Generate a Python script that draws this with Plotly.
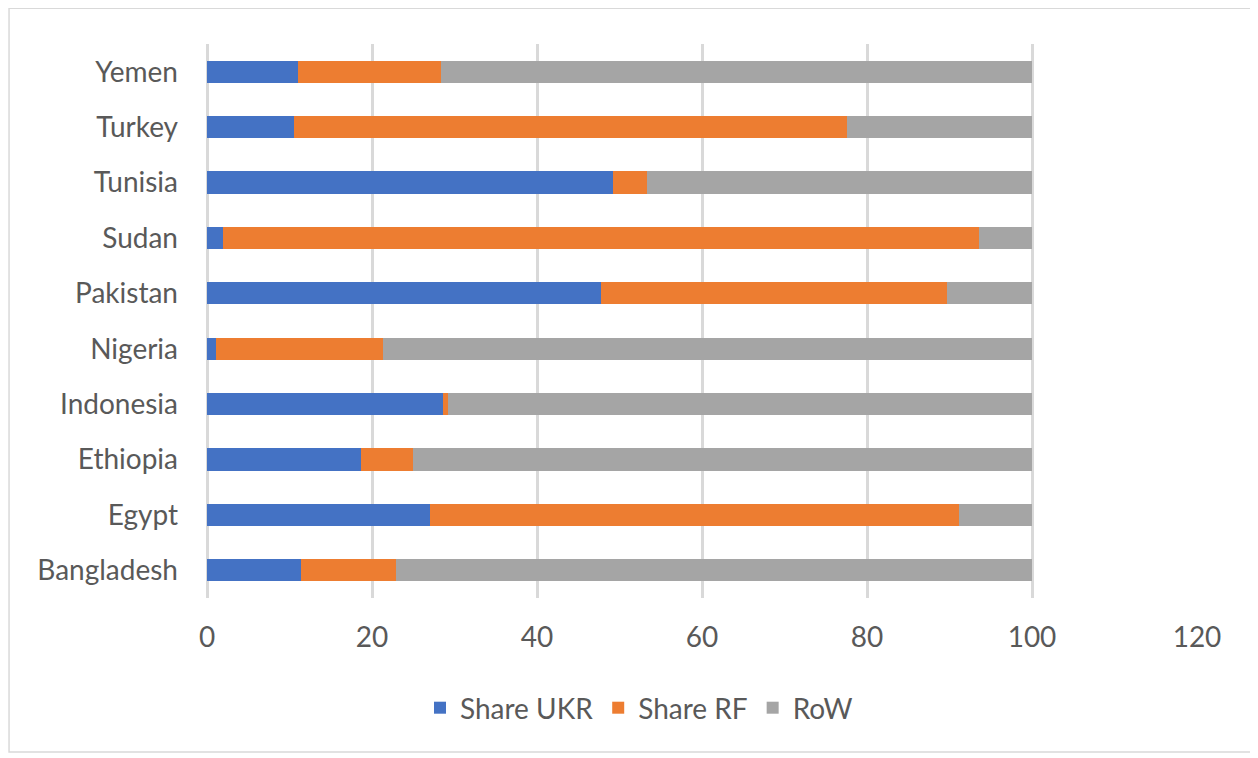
import plotly.graph_objects as go

countries = ["Bangladesh", "Egypt", "Ethiopia", "Indonesia", "Nigeria",
             "Pakistan", "Sudan", "Tunisia", "Turkey", "Yemen"]
share_ukr = [11.4, 27.0, 18.7, 28.6, 1.1, 47.8, 1.9, 49.2, 10.6, 11.0]
share_rf = [11.5, 64.2, 6.3, 0.6, 20.2, 41.9, 91.7, 4.1, 67.0, 17.4]
row = [77.1, 8.8, 75.0, 70.8, 78.7, 10.3, 6.4, 46.7, 22.4, 71.6]

series_names = ["Share UKR", "Share RF", "RoW"]
colors = ["#4472C4", "#ED7D31", "#A5A5A5"]

# page has an 8px body margin, so the figure is 8px smaller than the window
W, H = 1250, 750
L, R, T, B = 198.5, 61.3, 36.3, 160.3

fig = go.Figure()
for name, vals, col in zip(series_names, [share_ukr, share_rf, row], colors):
    fig.add_trace(go.Bar(y=countries, x=vals, name=name, orientation="h",
                         marker=dict(color=col, line=dict(width=0))))

font_family = "Lato, 'Open Sans', sans-serif"
pw = W - L - R
ph = H - T - B
bx0, bx1, by0, by1 = 0.5, 1243.5, 0.5, 743.5
fig.update_layout(
    width=W, height=H,
    barmode="stack", bargap=0.6,
    paper_bgcolor="white", plot_bgcolor="white",
    margin=dict(l=L, r=R, t=T, b=B, autoexpand=False),
    font=dict(family=font_family, size=28, color="#595959"),
    showlegend=True,
    legend=dict(orientation="h", xref="container", yref="container",
                x=(639 - 8) / W, xanchor="center", y=1 - (708 - 8) / H,
                yanchor="middle",
                font=dict(size=28, color="#595959"), itemwidth=30,
                traceorder="normal"),
    xaxis=dict(range=[0, 120], dtick=20, tick0=0, showgrid=True,
               gridcolor="#D9D9D9", gridwidth=2.5, zeroline=True,
               zerolinecolor="#D9D9D9", zerolinewidth=2.5, showline=False,
               ticks="", ticklabelstandoff=20,
               tickfont=dict(size=28, color="#595959")),
    yaxis=dict(showgrid=False, zeroline=False, showline=False, ticks="",
               ticklabelstandoff=28, tickfont=dict(size=28, color="#595959"),
               categoryorder="array", categoryarray=countries),
    shapes=[dict(type="rect", xref="paper", yref="paper",
                 x0=(bx0 - L) / pw, x1=(bx1 - L) / pw,
                 y0=(H - B - by1) / ph, y1=(H - B - by0) / ph,
                 line=dict(color="#D9D9D9", width=1.5), layer="below")],
)

fig.write_html("out.html")
